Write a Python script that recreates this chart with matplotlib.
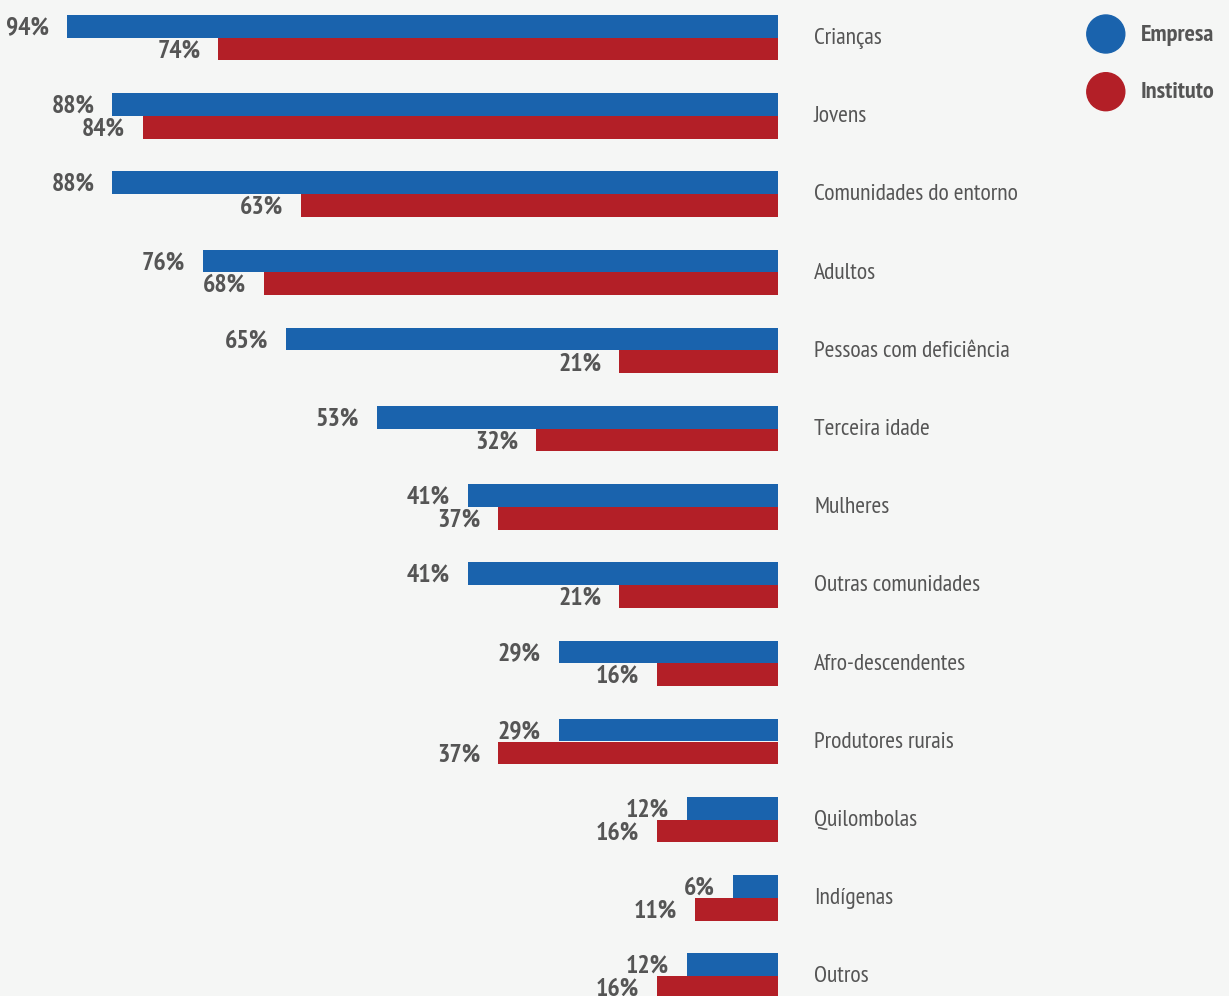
import matplotlib
matplotlib.use("Agg")
import matplotlib.pyplot as plt
from matplotlib.patches import Circle

categories = ["Crianças", "Jovens", "Comunidades do entorno", "Adultos",
              "Pessoas com deficiência", "Terceira idade", "Mulheres",
              "Outras comunidades", "Afro-descendentes", "Produtores rurais",
              "Quilombolas", "Indígenas", "Outros"]
empresa = [94, 88, 88, 76, 65, 53, 41, 41, 29, 29, 12, 6, 12]
instituto = [74, 84, 63, 68, 21, 32, 37, 21, 16, 37, 16, 11, 16]
series_names = ["Empresa", "Instituto"]

BLUE = "#1a63ad"
RED = "#b31f27"
BG = "#f5f6f5"
TXT = "#555555"
FONT = ["PT Sans Narrow", "DejaVu Sans"]

W, H = 1229, 996
fig = plt.figure(figsize=(W / 100, H / 100), dpi=100, facecolor=BG)

ax = fig.add_axes([0, 0, 778 / W, 1])
ax.set_facecolor(BG)
px_per_pct = (778 - 67) / 94.0
ax.set_xlim(778 / px_per_pct, 0)
row = 78.2
top = 37.7
ax.set_ylim((H - top) / row, -top / row)
h = 22.7 / row

ys = list(range(len(categories)))
ax.barh([y - h / 2 for y in ys], empresa, height=h, color=BLUE, linewidth=0)
ax.barh([y + h / 2 for y in ys], instituto, height=h, color=RED, linewidth=0)
ax.axis("off")

off = 18 / px_per_pct
dy = 1.8 / row
for y, e, i in zip(ys, empresa, instituto):
    ax.text(e + off, y - h / 2 + dy, f"{e}%", ha="right", va="center",
            fontsize=18.5, fontweight="bold", color=TXT, family=FONT)
    ax.text(i + off, y + h / 2 + dy, f"{i}%", ha="right", va="center",
            fontsize=18.5, fontweight="bold", color=TXT, family=FONT)

for y, c in zip(ys, categories):
    yfig = 1 - (top + y * row + 0.8) / H
    fig.text(814 / W, yfig, c, ha="left", va="center", fontsize=17,
             color=TXT, family=FONT)

for k, (name, col) in enumerate(zip(series_names, [BLUE, RED])):
    cy = 34 + k * 57.7
    circ = Circle((1105.8, H - cy), 19, transform=None, color=col)
    fig.patches.append(circ)
    fig.text(1140.5 / W, 1 - (cy + 1) / H, name, ha="left", va="center",
             fontsize=17.5, fontweight="bold", color=TXT, family=FONT)

fig.savefig("out.png", dpi=100, facecolor=BG)
